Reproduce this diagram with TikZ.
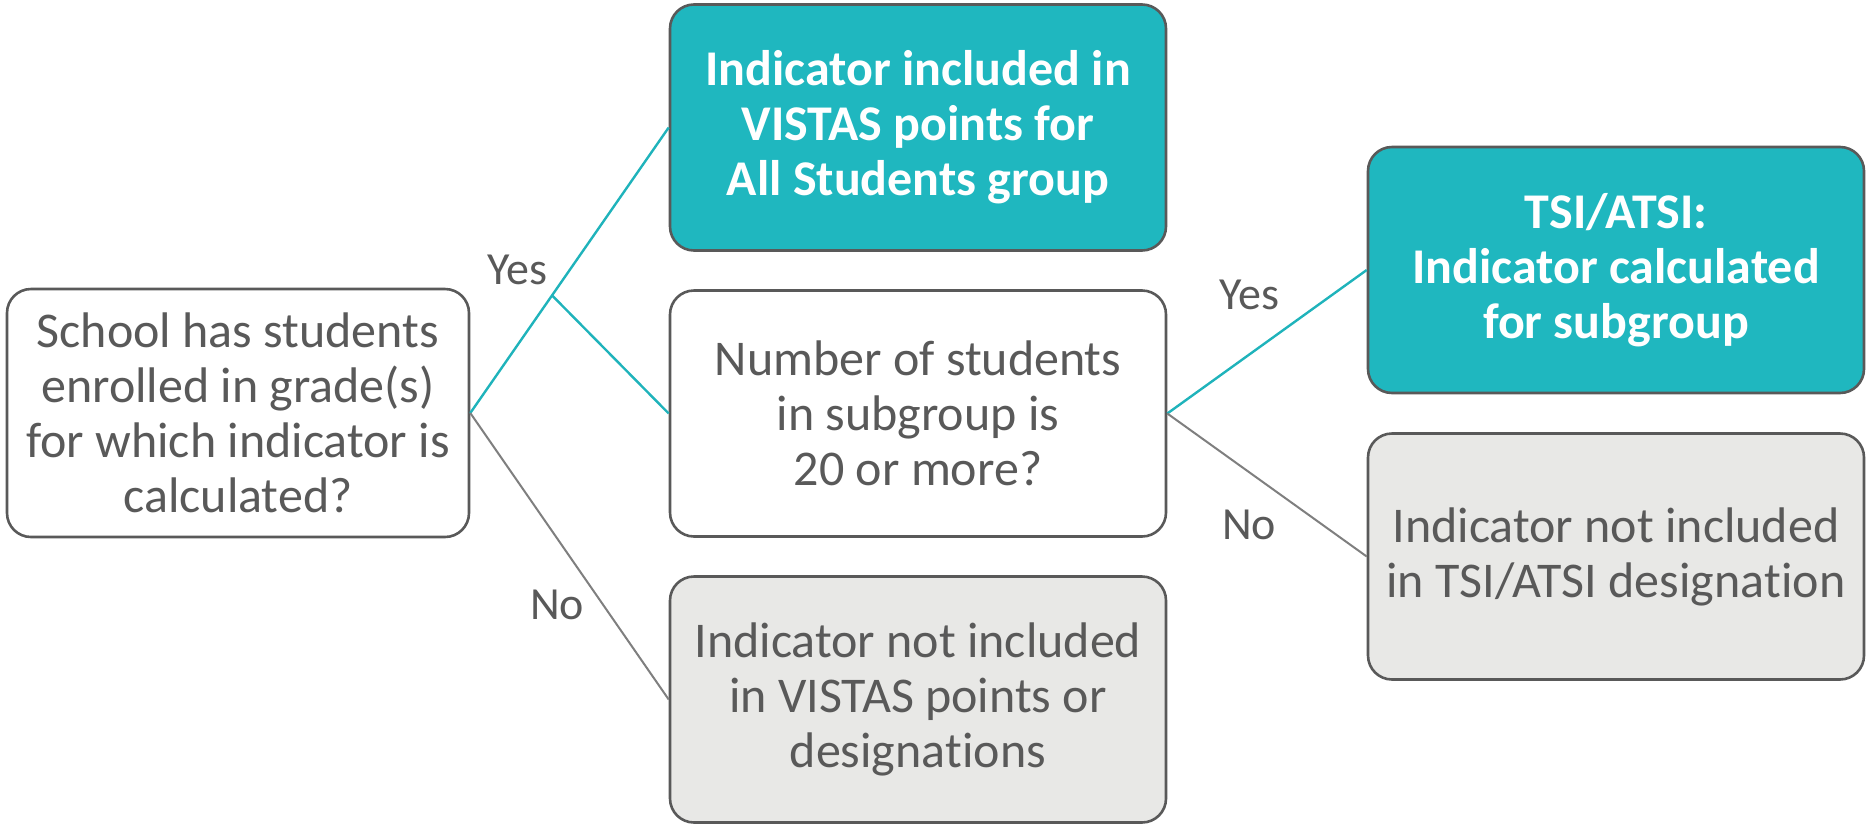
\documentclass[tikz,border=0pt]{standalone}
\usepackage{fontspec}
\setmainfont{Carlito}[Ligatures=NoCommon]
\definecolor{tealfill}{HTML}{1FB7BF}
\definecolor{tealline}{HTML}{1FB3BB}
\definecolor{bordergray}{HTML}{595959}
\definecolor{textgray}{HTML}{595959}
\definecolor{grayfill}{HTML}{E8E8E6}
\definecolor{linegray}{HTML}{7F7F7F}
\tikzset{
  box/.style={draw=bordergray, line width=2.6pt, rounded corners=24pt, align=center,
    minimum width=496pt, minimum height=246pt, inner sep=0pt,
    font=\fontsize{50}{55}\selectfont},
  whitebox/.style={box, fill=white, text=textgray},
  tealbox/.style={box, fill=tealfill, text=white, font=\fontsize{50}{55}\selectfont\bfseries},
  graybox/.style={box, fill=grayfill, text=textgray},
  yesline/.style={draw=tealline, line width=2.4pt},
  noline/.style={draw=linegray, line width=2pt},
  lbl/.style={text=textgray, font=\fontsize{46}{50}\selectfont, inner sep=0pt}
}
\begin{document}
\begin{tikzpicture}[x=1pt,y=-1pt]
\useasboundingbox (0,0) rectangle (1867,828);
\node[whitebox, minimum width=462pt, minimum height=248pt] (left) at (238,413)
  {School has students\\enrolled in grade(s)\\for which indicator is\\calculated?};
\node[tealbox] (top) at (918,127.5) {Indicator included in\\VISTAS points for\\All Students group};
\node[whitebox] (mid) at (918,413.5) {Number of students\\in subgroup is\\20 or more?};
\node[graybox] (bot) at (918,699.5) {Indicator not included\\in VISTAS points or\\designa\kern0pt tions};
\node[tealbox] (rt) at (1616,270) {TSI/ATSI:\\Indicator calculated\\for subgroup};
\node[graybox] (rg) at (1616,556.5) {Indicator not included\\in TSI/ATSI designa\kern0pt tion};
\path (left.east) -- coordinate[pos=0.412] (by) (top.west);
\draw[yesline] (left.east) -- (top.west);
\draw[yesline] (by) -- (mid.west);
\draw[noline] (left.east) -- (bot.west);
\draw[yesline] (mid.east) -- (rt.west);
\draw[noline] (mid.east) -- (rg.west);
\node[lbl] (yes1) at (517,270) {Yes};
\node[lbl] (no1) at (557,605) {No};
\node[lbl] (yes2) at (1249,295) {Yes};
\node[lbl] (no2) at (1249,525) {No};
\end{tikzpicture}
\end{document}
